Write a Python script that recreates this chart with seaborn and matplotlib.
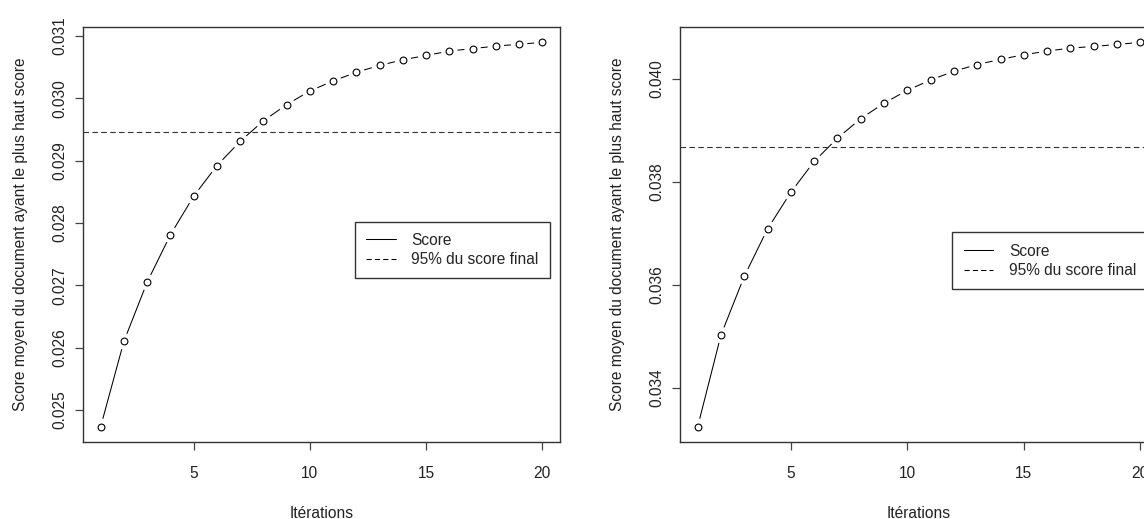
import numpy as np
import matplotlib
matplotlib.use('Agg')
import matplotlib.pyplot as plt
import seaborn as sns
from matplotlib.lines import Line2D
from matplotlib.ticker import FormatStrFormatter

sns.set_theme(style='white')
plt.rcParams['font.family'] = ['Liberation Sans', 'DejaVu Sans']

# ---- data ----
iterations = list(range(1, 21))
score_left = [0.02473, 0.02610, 0.02705, 0.02781, 0.02843, 0.02892, 0.02931,
              0.02964, 0.02990, 0.03012, 0.03028, 0.03042, 0.03053, 0.03062,
              0.03069, 0.03076, 0.03080, 0.03084, 0.03087, 0.03090]
seuil_left = 0.02946
yticks_left = [0.025, 0.026, 0.027, 0.028, 0.029, 0.030, 0.031]

score_right = [0.03325, 0.03503, 0.03617, 0.03709, 0.03780, 0.03840, 0.03885,
               0.03923, 0.03953, 0.03978, 0.03998, 0.04015, 0.04028, 0.04038,
               0.04047, 0.04054, 0.04060, 0.04063, 0.04067, 0.04071]
seuil_right = 0.03867
yticks_right = [0.034, 0.036, 0.038, 0.040]

xticks = [5, 10, 15, 20]
xlabel = 'Itérations'
ylabel = 'Score moyen du document ayant le plus haut score'
legend_labels = ['Score', '95% du score final']

fig = plt.figure(figsize=(11.44, 5.19), dpi=100)
ax1 = fig.add_axes([83 / 1144, 77 / 519, 477 / 1144, 415 / 519])
ax2 = fig.add_axes([680 / 1144, 77 / 519, 478 / 1144, 415 / 519])

txt = '#222222'
fs = 11.2
dash = (0, (5, 3))


def panel(ax, y, seuil, yticks, leg_anchor):
    # line, then white discs to open gaps (R type="b"), then open circles
    sns.lineplot(x=iterations, y=y, ax=ax, color='black', linewidth=0.75)
    sns.scatterplot(x=iterations, y=y, ax=ax, s=140, color='white',
                    edgecolor='none', zorder=3)
    sns.scatterplot(x=iterations, y=y, ax=ax, s=24, facecolor='white',
                    edgecolor='black', linewidth=0.8, zorder=4)
    ax.axhline(seuil, color='#333333', linewidth=0.8, linestyle=dash)
    ax.margins(x=0.04, y=0.04)
    ax.set_xticks(xticks)
    ax.set_yticks(yticks)
    ax.yaxis.set_major_formatter(FormatStrFormatter('%.3f'))
    for s in ax.spines.values():
        s.set_color('#333333')
        s.set_linewidth(1.0)
    ax.tick_params(axis='both', direction='out', length=6, width=0.9,
                   color='#444444', labelsize=fs, labelcolor=txt,
                   bottom=True, left=True)
    ax.tick_params(axis='x', pad=11)
    ax.tick_params(axis='y', pad=5)
    for lab in ax.get_yticklabels():
        lab.set_rotation(90)
        lab.set_va('center')
    ax.set_xlabel(xlabel, fontsize=fs, color=txt, labelpad=18)
    ax.set_ylabel(ylabel, fontsize=fs, color=txt, labelpad=18)
    handles = [Line2D([], [], color='black', linewidth=0.75),
               Line2D([], [], color='black', linewidth=0.75, linestyle=dash)]
    leg = ax.legend(handles, legend_labels, loc='upper left',
                    bbox_to_anchor=leg_anchor, frameon=True, fancybox=False,
                    fontsize=fs, handlelength=1.9, handletextpad=1.0,
                    borderpad=0.72, labelspacing=0.28, borderaxespad=0)
    leg.get_frame().set_edgecolor('black')
    leg.get_frame().set_linewidth(1.0)


panel(ax1, score_left, seuil_left, yticks_left, (0.57, 0.531))
panel(ax2, score_right, seuil_right, yticks_right, (0.57, 0.505))

fig.savefig('out.png', dpi=100)
